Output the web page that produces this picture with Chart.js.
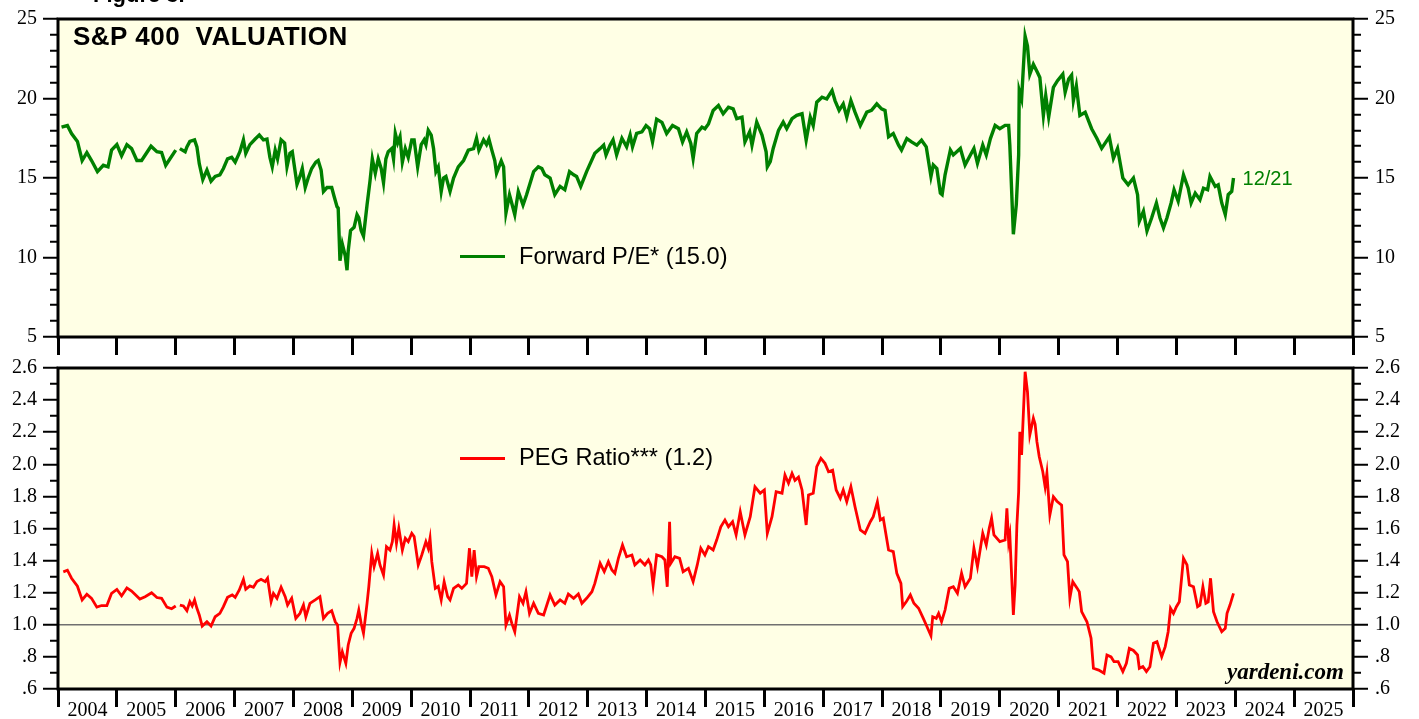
<!DOCTYPE html>
<html><head><meta charset="utf-8">
<script src="https://cdn.jsdelivr.net/npm/chart.js@4.4.1/dist/chart.umd.min.js"></script>
<style>
html,body{margin:0;padding:0;background:#fff;}
#wrap{position:relative;width:1419px;height:719px;overflow:hidden;background:#fff;}
canvas{position:absolute;left:0;top:0;}
.t{position:absolute;white-space:nowrap;font-family:"Liberation Sans",Arial,sans-serif;line-height:1;color:#000;}
.sw{position:absolute;height:3px;width:45px;}
</style></head><body>
<div id="wrap">
<canvas id="c1" width="1419" height="719"></canvas>
<canvas id="c2" width="1419" height="719"></canvas>
<div class="t" style="left:93px;top:-16px;font-size:22px;font-weight:bold;">Figure 3.</div>
<div class="t" style="left:73px;top:23px;font-size:26px;font-weight:bold;letter-spacing:0.5px;">S&amp;P 400&nbsp; VALUATION</div>
<div class="sw" style="left:460px;top:255px;background:#008000;"></div>
<div class="t" style="left:519px;top:245px;font-size:23.6px;">Forward P/E* (15.0)</div>
<div class="sw" style="left:460px;top:457px;background:#ff0000;"></div>
<div class="t" style="left:519px;top:446px;font-size:23.6px;">PEG Ratio*** (1.2)</div>
<div class="t" style="left:1227px;top:660px;font-size:23px;font-weight:bold;font-style:italic;font-family:'Liberation Serif','Times New Roman',serif;">yardeni.com</div>
</div>
<script>
// ---------- DATA ----------
const peDates = [2004.06,2004.16,2004.23,2004.33,2004.41,2004.49,2004.57,2004.67,2004.77,2004.85,2004.91,2005.00,2005.08,2005.17,2005.25,2005.34,2005.42,2005.58,2005.68,2005.76,2005.83,2006.00,2006.03,
2006.07,2006.16,2006.19,2006.24,2006.32,2006.36,2006.40,2006.46,2006.53,2006.60,2006.67,2006.75,2006.81,2006.88,2006.95,
2007.01,2007.09,2007.15,2007.19,2007.26,2007.35,2007.42,2007.49,2007.55,2007.60,2007.64,2007.69,2007.73,2007.79,2007.85,2007.89,2007.94,2007.98,
2008.06,2008.11,2008.15,2008.20,2008.25,2008.31,2008.38,2008.42,2008.47,2008.51,2008.57,2008.65,2008.69,2008.74,2008.76,2008.79,2008.83,2008.88,2008.91,2008.93,2008.97,
2009.03,2009.08,2009.11,2009.15,2009.19,2009.25,2009.30,2009.34,2009.39,2009.44,2009.49,2009.53,2009.57,2009.61,2009.67,2009.70,2009.73,2009.77,2009.81,2009.85,2009.90,2009.95,
2010.01,2010.05,2010.11,2010.17,2010.22,2010.25,2010.29,2010.34,2010.38,2010.42,2010.46,2010.51,2010.55,2010.59,2010.66,2010.72,2010.80,2010.89,2010.97,
2011.06,2011.11,2011.15,2011.23,2011.28,2011.32,2011.37,2011.42,2011.45,2011.53,2011.57,2011.61,2011.67,2011.71,2011.76,2011.82,2011.90,2011.96,
2012.08,2012.16,2012.22,2012.27,2012.36,2012.44,2012.53,2012.61,2012.69,2012.76,2012.81,2012.88,2012.98,
2013.12,2013.21,2013.27,2013.31,2013.38,2013.43,2013.49,2013.58,2013.66,2013.72,2013.76,2013.83,2013.92,2013.99,
2014.05,2014.10,2014.17,2014.26,2014.34,2014.44,2014.54,2014.61,2014.68,2014.75,2014.79,2014.85,2014.94,2014.99,
2015.05,2015.13,2015.22,2015.30,2015.39,2015.47,2015.53,2015.62,2015.67,2015.75,2015.79,2015.87,2015.96,
2016.03,2016.05,2016.10,2016.15,2016.24,2016.32,2016.38,2016.47,2016.55,2016.64,2016.71,2016.78,2016.83,2016.89,2016.98,
2017.06,2017.15,2017.20,2017.27,2017.34,2017.40,2017.47,2017.54,2017.63,2017.74,2017.82,2017.91,2017.99,
2018.05,2018.11,2018.19,2018.28,2018.33,2018.42,2018.50,2018.59,2018.67,2018.75,2018.83,2018.87,2018.93,2018.99,
2019.02,2019.07,2019.16,2019.21,2019.33,2019.41,2019.50,2019.56,2019.62,2019.71,2019.77,2019.84,2019.92,
2020.00,2020.09,2020.15,2020.17,2020.23,2020.28,2020.32,2020.33,2020.37,2020.43,2020.47,2020.51,2020.57,2020.64,2020.68,2020.74,2020.78,2020.83,2020.91,2020.98,
2021.07,2021.11,2021.17,2021.22,2021.25,2021.30,2021.36,2021.45,2021.56,2021.65,2021.73,2021.86,2021.93,
2022.00,2022.09,2022.18,2022.27,2022.34,2022.37,2022.44,2022.50,2022.58,2022.66,2022.72,2022.78,2022.84,2022.91,2022.96,
2023.03,2023.12,2023.20,2023.25,2023.32,2023.40,2023.46,2023.53,2023.57,2023.66,2023.71,2023.77,2023.83,2023.88,2023.94,2023.97];
const peValues = [18.2,18.3,17.8,17.3,16.1,16.6,16.1,15.4,15.8,15.7,16.75,17.1,16.4,17.1,16.85,16.1,16.1,17.0,16.65,16.6,15.8,16.75,null,
16.85,16.65,16.96,17.3,17.4,16.96,15.9,14.9,15.5,14.8,15.1,15.2,15.6,16.2,16.3,
16.0,16.65,17.4,16.55,17.1,17.45,17.7,17.4,17.45,16.3,15.7,16.75,16.2,17.4,17.2,15.7,16.55,16.65,
14.6,15.1,15.6,14.4,15.0,15.6,16.0,16.1,15.5,14.15,14.4,14.4,13.85,13.2,13.1,9.8,10.84,10.1,9.2,10.4,11.7,
11.9,12.7,12.5,11.7,11.35,13.3,14.8,16.2,15.3,16.2,15.6,14.7,16.2,16.65,16.85,16.2,17.8,17.2,17.6,16.0,16.85,16.3,
17.4,17.4,15.7,17.1,17.4,17.1,18.0,17.7,16.85,15.4,15.7,14.15,15.0,15.1,14.15,15.0,15.7,16.1,16.75,
16.85,17.5,16.75,17.4,17.1,17.45,16.75,16.1,15.3,16.07,15.7,12.8,13.95,13.4,12.7,14.15,13.3,13.95,
15.4,15.7,15.6,15.2,15.0,13.95,14.47,14.26,15.4,15.2,15.1,14.47,15.4,
16.55,16.85,17.07,16.45,17.07,17.4,16.45,17.5,16.96,17.7,16.96,17.8,17.9,18.3,
18.1,17.27,18.7,18.5,17.8,18.3,18.1,17.27,17.9,17.17,16.23,17.8,18.2,18.1,
18.4,19.25,19.56,19.04,19.45,19.35,18.73,18.83,17.27,17.9,17.07,18.52,17.7,
16.65,15.7,16.03,16.86,18.0,18.52,18.1,18.73,18.94,19.04,17.38,18.83,18.3,19.77,20.08,
19.97,20.5,19.87,19.25,19.66,18.83,19.87,19.14,18.3,19.14,19.25,19.66,19.35,
19.25,17.59,17.8,17.07,16.76,17.48,17.27,17.07,17.38,16.96,15.1,15.82,15.6,14.05,
13.95,15.2,16.76,16.45,16.86,15.82,16.45,16.86,15.92,17.07,16.45,17.48,18.31,
18.1,18.31,18.31,17.07,11.46,13.33,16.45,20.5,19.97,23.92,23.3,21.53,22.15,21.64,21.32,18.94,20.18,18.83,20.7,21.12,
21.53,20.39,21.22,21.47,19.87,20.8,18.94,19.14,18.1,17.48,16.86,17.59,16.23,
16.86,15.0,14.57,15.0,13.95,12.29,12.91,11.67,12.5,13.43,12.5,11.87,12.5,13.43,14.26,
13.54,15.2,14.36,13.43,14.05,13.64,14.36,14.26,15.1,14.47,14.57,13.43,12.7,13.95,14.16,15.0];

const pegDates = [2004.09,2004.16,2004.23,2004.33,2004.41,2004.49,2004.57,2004.66,2004.74,2004.83,2004.91,2005.00,2005.08,2005.17,2005.25,2005.39,2005.48,2005.59,2005.68,2005.76,2005.85,2005.93,2006.00,2006.03,
2006.07,2006.13,2006.19,2006.24,2006.28,2006.32,2006.36,2006.40,2006.45,2006.53,2006.60,2006.67,2006.75,2006.81,2006.88,2006.96,
2007.01,2007.08,2007.15,2007.19,2007.26,2007.32,2007.38,2007.45,2007.52,2007.56,2007.62,2007.66,2007.72,2007.79,2007.86,2007.90,2007.97,
2008.04,2008.11,2008.17,2008.21,2008.28,2008.37,2008.45,2008.51,2008.58,2008.65,2008.71,2008.75,2008.79,2008.83,2008.89,2008.93,2008.98,
2009.03,2009.08,2009.11,2009.15,2009.19,2009.25,2009.28,2009.33,2009.37,2009.43,2009.47,2009.53,2009.58,2009.64,2009.68,2009.71,2009.75,2009.79,2009.85,2009.90,2009.95,
2010.01,2010.05,2010.12,2010.18,2010.25,2010.29,2010.32,2010.35,2010.41,2010.46,2010.51,2010.56,2010.62,2010.66,2010.72,2010.80,2010.86,2010.94,2010.99,
2011.03,2011.07,2011.11,2011.15,2011.24,2011.31,2011.37,2011.44,2011.51,2011.57,2011.61,2011.67,2011.71,2011.76,2011.84,2011.90,2011.95,
2012.01,2012.08,2012.16,2012.25,2012.36,2012.44,2012.53,2012.61,2012.67,2012.76,2012.84,2012.90,2012.98,
2013.07,2013.12,2013.21,2013.28,2013.35,2013.41,2013.46,2013.52,2013.59,2013.66,2013.75,2013.80,2013.89,2013.97,
2014.03,2014.07,2014.11,2014.17,2014.26,2014.31,2014.35,2014.39,2014.41,2014.48,2014.56,2014.62,2014.71,2014.79,2014.86,2014.92,2014.99,
2015.05,2015.13,2015.19,2015.26,2015.33,2015.39,2015.46,2015.52,2015.59,2015.67,2015.76,2015.84,2015.93,
2016.00,2016.05,2016.13,2016.20,2016.30,2016.35,2016.41,2016.47,2016.52,2016.58,2016.64,2016.71,2016.75,2016.83,2016.89,2016.96,
2017.03,2017.09,2017.16,2017.22,2017.29,2017.34,2017.40,2017.47,2017.54,2017.63,2017.71,2017.80,2017.85,2017.92,2017.97,
2018.02,2018.11,2018.19,2018.25,2018.32,2018.35,2018.41,2018.48,2018.54,2018.62,2018.70,2018.75,2018.83,2018.86,2018.92,2018.96,
2019.01,2019.07,2019.14,2019.21,2019.28,2019.35,2019.41,2019.50,2019.56,2019.62,2019.67,2019.71,2019.77,2019.82,2019.86,2019.90,
2020.00,2020.09,2020.12,2020.15,2020.17,2020.23,2020.26,2020.29,2020.32,2020.34,2020.37,2020.43,2020.47,2020.51,2020.57,2020.60,2020.63,2020.67,2020.73,2020.77,2020.80,2020.85,2020.91,2020.97,
2021.05,2021.09,2021.15,2021.19,2021.24,2021.31,2021.35,2021.39,2021.48,2021.55,2021.59,2021.68,2021.77,2021.82,2021.89,2021.94,
2022.01,2022.09,2022.15,2022.20,2022.27,2022.34,2022.37,2022.43,2022.49,2022.55,2022.61,2022.67,2022.75,2022.81,2022.86,2022.90,2022.95,
2023.00,2023.05,2023.12,2023.18,2023.22,2023.29,2023.36,2023.40,2023.45,2023.50,2023.54,2023.58,2023.63,2023.69,2023.77,2023.83,2023.86,2023.91,2023.97];
const pegValues = [1.33,1.34,1.29,1.24,1.155,1.19,1.165,1.11,1.12,1.12,1.196,1.22,1.18,1.23,1.21,1.16,1.175,1.2,1.17,1.165,1.11,1.10,1.117,null,
1.123,1.117,1.088,1.144,1.117,1.155,1.103,1.061,0.992,1.019,0.992,1.05,1.071,1.113,1.171,1.186,
1.171,1.217,1.283,1.221,1.242,1.234,1.269,1.283,1.269,1.29,1.144,1.196,1.165,1.234,1.175,1.123,1.165,
1.04,1.071,1.123,1.05,1.134,1.155,1.175,1.04,1.071,1.088,1.019,0.999,0.764,0.832,0.76,0.874,0.947,
0.978,1.04,1.092,1.009,0.947,1.134,1.237,1.445,1.362,1.445,1.373,1.31,1.487,1.466,1.518,1.622,1.508,1.601,1.466,1.539,1.518,
1.57,1.55,1.373,1.435,1.518,1.476,1.539,1.393,1.227,1.24,1.155,1.269,1.175,1.155,1.227,1.248,1.227,1.258,1.477,
1.3,1.466,1.3,1.362,1.362,1.352,1.3,1.186,1.269,1.237,0.999,1.061,1.009,0.957,1.175,1.134,1.206,
1.071,1.134,1.071,1.061,1.186,1.123,1.155,1.134,1.192,1.165,1.192,1.134,1.165,
1.206,1.258,1.383,1.331,1.393,1.341,1.321,1.414,1.497,1.424,1.435,1.373,1.404,1.373,
1.404,1.373,1.248,1.435,1.424,1.404,1.237,1.642,1.383,1.424,1.414,1.331,1.352,1.269,1.373,1.477,1.435,
1.487,1.466,1.528,1.611,1.653,1.611,1.642,1.56,1.705,1.56,1.674,1.86,1.82,
1.84,1.57,1.674,1.829,1.82,1.933,1.882,1.944,1.9,1.92,1.84,1.622,1.809,1.82,1.985,2.037,
2.006,1.954,1.964,1.84,1.788,1.84,1.767,1.86,1.736,1.591,1.57,1.642,1.674,1.767,1.653,
1.664,1.466,1.456,1.321,1.258,1.113,1.143,1.186,1.134,1.103,1.04,0.999,0.932,1.05,1.04,1.071,
1.019,1.092,1.227,1.237,1.196,1.321,1.237,1.29,1.477,1.362,1.477,1.57,1.497,1.601,1.664,1.56,
1.518,1.528,1.726,1.518,1.56,1.061,1.248,1.622,1.829,2.203,2.058,2.577,2.452,2.183,2.287,2.25,2.141,2.047,1.954,1.86,1.944,1.684,1.798,1.77,
1.746,1.435,1.393,1.165,1.269,1.23,1.206,1.082,1.019,0.916,0.729,0.718,0.698,0.812,0.8,0.77,
0.77,0.708,0.76,0.853,0.84,0.812,0.729,0.74,0.708,0.739,0.885,0.895,0.801,0.864,0.957,1.103,1.071,
1.113,1.144,1.414,1.373,1.248,1.237,1.113,1.122,1.237,1.134,1.143,1.29,1.082,1.019,0.957,0.978,1.071,1.123,1.196];

const yearStart = 2004, yearEnd = 2026;
const peTicks = {min: 5, max: 25, step: 1, labelEvery: 5};
const pegTicks = {min: 0.6, max: 2.6, step: 0.1, labelEvery: 0.2};
const pegReference = 1.0;
const lastDateLabel = '12/21';

// ---------- STYLE ----------
const GREEN = '#008000', RED = '#ff0000', BG = '#FFFFE5';
const TICK_FONT = {family: '"Liberation Serif","Times New Roman",serif', size: 20};
const PANEL_L = 58, PANEL_R = 1353;

function pts(d, v){ return d.map((x,i)=>({x:x, y:v[i]})); }

const framePlugin = {
  id: 'frame',
  beforeDraw(chart){
    const {ctx, chartArea:a} = chart;
    ctx.save(); ctx.fillStyle = BG;
    ctx.fillRect(a.left, a.top, a.right-a.left, a.bottom-a.top);
    ctx.restore();
  },
  afterDraw(chart){
    const {ctx, chartArea:a} = chart;
    ctx.save(); ctx.strokeStyle = '#000'; ctx.lineWidth = 3;
    ctx.strokeRect(a.left, a.top, a.right-a.left, a.bottom-a.top);
    ctx.restore();
  }
};

function isMultiple(v, every){
  const r = v / every;
  return Math.abs(r - Math.round(r)) < 1e-6;
}

function yAxis(pos, cfg, fmt, refLine){
  return {
    type: 'linear', position: pos, min: cfg.min, max: cfg.max,
    afterFit: s => { s.width = pos === 'left' ? PANEL_L : (1419 - PANEL_R); },
    border: {display: false},
    grid: {
      drawOnChartArea: refLine !== undefined,
      color: ctx => (refLine !== undefined && Math.abs(ctx.tick.value - refLine) < 1e-6) ? '#707070' : 'rgba(0,0,0,0)',
      lineWidth: 1.5,
      drawTicks: true, tickLength: 15, tickWidth: 2, tickColor: '#000',
      tickBorderDash: ctx => isMultiple(ctx.tick.value, cfg.labelEvery) ? [] : (pos === 'left' ? [0,7,8,0] : [8,7])
    },
    ticks: {
      stepSize: cfg.step, autoSkip: false, padding: pos === 'left' ? 6 : 7,
      color: '#000', font: TICK_FONT,
      callback: v => isMultiple(v, cfg.labelEvery) ? fmt(v) : ''
    }
  };
}

function xAxis(showLabels){
  return {
    type: 'linear', position: 'bottom', min: yearStart, max: yearEnd,
    afterFit: s => { s.height = showLabels ? 30 : 20; },
    border: {display: false},
    grid: {drawOnChartArea: false, drawTicks: true, tickLength: 18, tickWidth: 3, tickColor: '#000', color: 'rgba(0,0,0,0)'},
    ticks: {
      stepSize: 1, autoSkip: false, maxRotation: 0, minRotation: 0,
      padding: -8, labelOffset: (PANEL_R - PANEL_L) / (yearEnd - yearStart) / 2,
      color: '#000', font: TICK_FONT,
      callback: v => (showLabels && v < yearEnd) ? String(Math.round(v)) : ''
    }
  };
}

const fmtPE = v => String(Math.round(v));
const fmtPEG = v => { const t = Math.round(v*10)/10; return t >= 1 ? t.toFixed(1) : t.toFixed(1).replace(/^0/, ''); };

const lastLabelPlugin = {
  id: 'lastLabel',
  afterDatasetsDraw(chart){
    const meta = chart.getDatasetMeta(0);
    const p = meta.data[meta.data.length - 1];
    const ctx = chart.ctx;
    ctx.save();
    ctx.fillStyle = GREEN;
    ctx.font = '20px "Liberation Sans", Arial, sans-serif';
    ctx.textBaseline = 'alphabetic';
    ctx.fillText(lastDateLabel, p.x + 9, p.y + 7);
    ctx.restore();
  }
};

const common = {
  responsive: false, animation: false, devicePixelRatio: 1,
  plugins: {legend: {display: false}, tooltip: {enabled: false}},
  elements: {point: {radius: 0}, line: {tension: 0}}
};

new Chart(document.getElementById('c1'), {
  type: 'line',
  data: {datasets: [{data: pts(peDates, peValues), borderColor: GREEN, borderWidth: 3.4, spanGaps: false, fill: false}]},
  options: Object.assign({}, common, {
    layout: {padding: {top: 16, bottom: 719 - 337 - 20, left: 0, right: 0}},
    scales: {
      x: xAxis(false),
      y: yAxis('left', peTicks, fmtPE),
      y2: yAxis('right', peTicks, fmtPE)
    }
  }),
  plugins: [framePlugin, lastLabelPlugin]
});

new Chart(document.getElementById('c2'), {
  type: 'line',
  data: {datasets: [{data: pts(pegDates, pegValues), borderColor: RED, borderWidth: 2.8, spanGaps: false, fill: false}]},
  options: Object.assign({}, common, {
    layout: {padding: {top: 368, bottom: 0, left: 0, right: 0}},
    scales: {
      x: xAxis(true),
      y: yAxis('left', pegTicks, fmtPEG, pegReference),
      y2: yAxis('right', pegTicks, fmtPEG)
    }
  }),
  plugins: [framePlugin]
});
</script>
</body></html>
